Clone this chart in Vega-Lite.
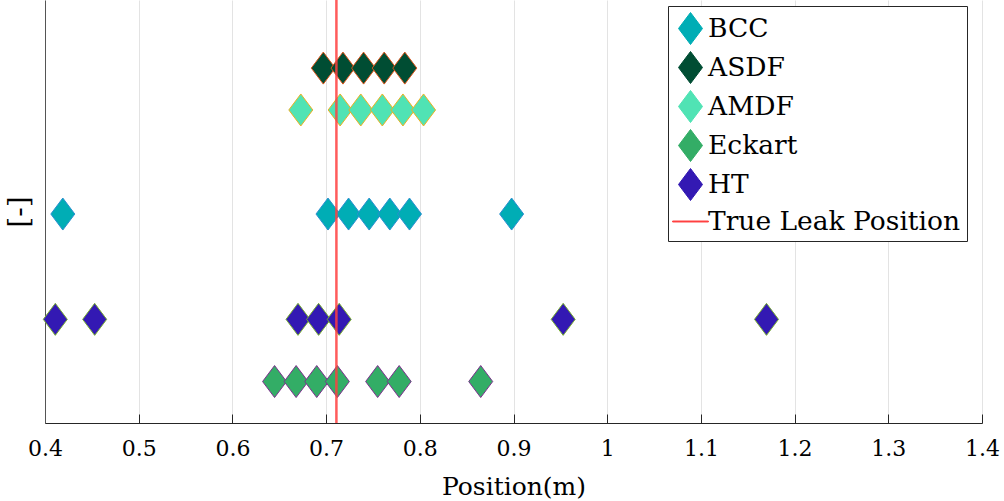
{
  "$schema": "https://vega.github.io/schema/vega-lite/v6.json",
  "width": 937,
  "height": 423,
  "autosize": {"type": "none"},
  "padding": {"left": 45, "top": 0, "right": 22, "bottom": 78},
  "background": "white",
  "config": {
    "view": {"stroke": null},
    "font": "DejaVu Serif"
  },
  "layer": [
    {
      "data": {
        "values": [
          {"method": "BCC", "pos": 0.419, "y": 0.494},
          {"method": "BCC", "pos": 0.702, "y": 0.494},
          {"method": "BCC", "pos": 0.724, "y": 0.494},
          {"method": "BCC", "pos": 0.746, "y": 0.494},
          {"method": "BCC", "pos": 0.768, "y": 0.494},
          {"method": "BCC", "pos": 0.789, "y": 0.494},
          {"method": "BCC", "pos": 0.898, "y": 0.494},
          {"method": "ASDF", "pos": 0.697, "y": 0.839},
          {"method": "ASDF", "pos": 0.718, "y": 0.839},
          {"method": "ASDF", "pos": 0.740, "y": 0.839},
          {"method": "ASDF", "pos": 0.762, "y": 0.839},
          {"method": "ASDF", "pos": 0.784, "y": 0.839},
          {"method": "AMDF", "pos": 0.673, "y": 0.740},
          {"method": "AMDF", "pos": 0.715, "y": 0.740},
          {"method": "AMDF", "pos": 0.737, "y": 0.740},
          {"method": "AMDF", "pos": 0.760, "y": 0.740},
          {"method": "AMDF", "pos": 0.782, "y": 0.740},
          {"method": "AMDF", "pos": 0.804, "y": 0.740},
          {"method": "Eckart", "pos": 0.645, "y": 0.098},
          {"method": "Eckart", "pos": 0.668, "y": 0.098},
          {"method": "Eckart", "pos": 0.690, "y": 0.098},
          {"method": "Eckart", "pos": 0.712, "y": 0.098},
          {"method": "Eckart", "pos": 0.755, "y": 0.098},
          {"method": "Eckart", "pos": 0.778, "y": 0.098},
          {"method": "Eckart", "pos": 0.865, "y": 0.098},
          {"method": "HT", "pos": 0.411, "y": 0.245},
          {"method": "HT", "pos": 0.453, "y": 0.245},
          {"method": "HT", "pos": 0.670, "y": 0.245},
          {"method": "HT", "pos": 0.692, "y": 0.245},
          {"method": "HT", "pos": 0.714, "y": 0.245},
          {"method": "HT", "pos": 0.953, "y": 0.245},
          {"method": "HT", "pos": 1.170, "y": 0.245}
        ]
      },
      "mark": {
        "type": "point",
        "filled": true,
        "opacity": 1,
        "size": 1024,
        "strokeWidth": 1,
        "strokeOpacity": 1
      },
      "encoding": {
        "x": {
          "field": "pos",
          "type": "quantitative",
          "scale": {"domain": [0.4, 1.4], "nice": false, "zero": false},
          "axis": {
            "title": "Position(m)",
            "titleFont": "DejaVu Serif",
            "titleFontSize": 25,
            "titleFontWeight": "normal",
            "titleColor": "#000000",
            "titlePadding": 15,
            "values": [0.4, 0.5, 0.6, 0.7, 0.8, 0.9, 1.0, 1.1, 1.2, 1.3, 1.4],
            "format": "~g",
            "labelFont": "DejaVu Serif",
            "labelFontSize": 22,
            "labelColor": "#000000",
            "labelPadding": 24,
            "labelFlush": false,
            "tickSize": -9,
            "tickColor": "#262626",
            "domainColor": "#262626",
            "grid": true,
            "gridColor": "#e3e3e3",
            "gridWidth": 1
          }
        },
        "y": {
          "field": "y",
          "type": "quantitative",
          "scale": {"domain": [0, 1], "nice": false},
          "axis": {
            "title": "[-]",
            "titleFont": "DejaVu Serif",
            "titleFontSize": 28,
            "titleFontWeight": "normal",
            "titleColor": "#000000",
            "titlePadding": 12,
            "labels": false,
            "ticks": false,
            "grid": false,
            "domainColor": "#555555"
          }
        },
        "color": {
          "field": "method",
          "type": "nominal",
          "scale": {
            "domain": ["BCC", "ASDF", "AMDF", "Eckart", "HT", "True Leak Position"],
            "range": ["#00adb5", "#004d33", "#50e3b4", "#33ad66", "#3319b3", "#ff4040"]
          },
          "legend": {
            "title": null,
            "orient": "none",
            "legendX": 623,
            "legendY": 6,
            "labelFont": "DejaVu Serif",
            "labelFontSize": 26.5,
            "labelColor": "#000000",
            "labelLimit": 400,
            "strokeColor": "#262626",
            "fillColor": "#ffffff",
            "padding": 6,
            "rowPadding": 2,
            "symbolSize": 1024,
            "symbolStrokeWidth": 1,
            "labelOffset": 1
          }
        },
        "shape": {
          "field": "method",
          "type": "nominal",
          "scale": {
            "domain": ["BCC", "ASDF", "AMDF", "Eckart", "HT", "True Leak Position"],
            "range": [
              "M0,-1L0.75,0L0,1L-0.75,0Z",
              "M0,-1L0.75,0L0,1L-0.75,0Z",
              "M0,-1L0.75,0L0,1L-0.75,0Z",
              "M0,-1L0.75,0L0,1L-0.75,0Z",
              "M0,-1L0.75,0L0,1L-0.75,0Z",
              "M-1.12,-0.03L1.12,-0.03L1.12,0.03L-1.12,0.03Z"
            ]
          }
        },
        "stroke": {
          "field": "method",
          "type": "nominal",
          "scale": {
            "domain": ["BCC", "ASDF", "AMDF", "Eckart", "HT", "True Leak Position"],
            "range": ["#2a8fd0", "#d95319", "#edb120", "#7e2f8e", "#77ac30", "#ff4040"]
          }
        }
      }
    },
    {
      "data": {"values": [{"method": "True Leak Position", "pos": 0.711}]},
      "mark": {"type": "rule", "strokeWidth": 2.5, "opacity": 0.85},
      "encoding": {
        "x": {"field": "pos", "type": "quantitative"},
        "color": {"field": "method", "type": "nominal"}
      }
    }
  ]
}
